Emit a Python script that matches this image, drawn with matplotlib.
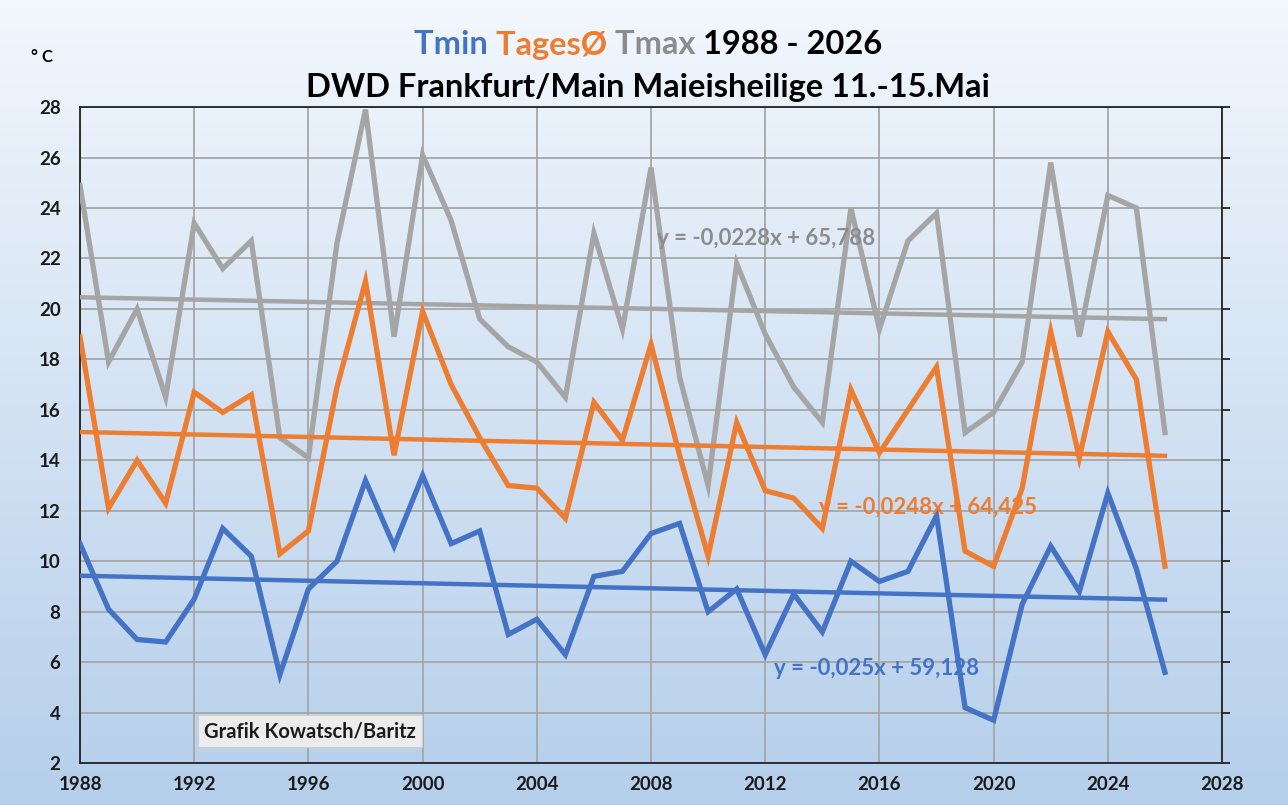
import matplotlib
matplotlib.use("Agg")
import matplotlib.pyplot as plt
import numpy as np

# Daten - Eisheilige 11.-15. Mai, DWD Frankfurt/Main
jahre = list(range(1988, 2027))

tmax = [24.9, 17.9, 20.0, 16.5, 23.4, 21.6, 22.7, 14.9, 14.1, 22.6,
        27.9, 18.9, 26.1, 23.5, 19.6, 18.5, 17.9, 16.5, 23.0, 19.2,
        25.6, 17.3, 13.0, 21.8, 19.0, 16.9, 15.5, 24.0, 19.2, 22.7,
        23.8, 15.1, 15.9, 17.9, 25.8, 18.9, 24.5, 24.0, 15.1]

tages = [18.9, 12.1, 14.0, 12.3, 16.7, 15.9, 16.6, 10.3, 11.2, 16.9,
         21.1, 14.2, 19.9, 17.0, 14.9, 13.0, 12.9, 11.7, 16.3, 14.8,
         18.6, 14.2, 10.2, 15.5, 12.8, 12.5, 11.3, 16.8, 14.3, 16.0,
         17.7, 10.4, 9.8, 12.9, 19.1, 14.1, 19.1, 17.2, 9.8]

tmin = [10.7, 8.1, 6.9, 6.8, 8.5, 11.3, 10.2, 5.5, 8.9, 10.0,
        13.2, 10.6, 13.4, 10.7, 11.2, 7.1, 7.7, 6.3, 9.4, 9.6,
        11.1, 11.5, 8.0, 8.9, 6.3, 8.7, 7.2, 10.0, 9.2, 9.6,
        11.8, 4.2, 3.7, 8.3, 10.6, 8.8, 12.7, 9.7, 5.6]

# Trendlinien (Steigung, Achsenabschnitt) wie in der Vorlage
trend_tmax = (-0.0228, 65.788)
trend_tages = (-0.0248, 64.425)
trend_tmin = (-0.025, 59.128)

blau = "#4472C4"
orange = "#ED7D31"
grau = "#A5A5A5"

plt.rcParams['font.family'] = ['Lato', 'DejaVu Sans']

fig = plt.figure(figsize=(12.88, 8.05), dpi=100)

# Hintergrund mit Farbverlauf
bg = fig.add_axes([0, 0, 1, 1], zorder=-10)
verlauf = np.linspace(0, 1, 256).reshape(-1, 1)
von = np.array([0.95, 0.97, 0.99])
bis = np.array([0.71, 0.81, 0.92])
farben = von + (bis - von) * verlauf[:, :, None]
bg.imshow(farben, aspect='auto', extent=[0, 1, 0, 1])
bg.axis('off')

ax = fig.add_axes([0.0621, 0.052, 0.8867, 0.815])
ax.patch.set_alpha(0)

x = np.array(jahre)
xt = np.array([jahre[0], jahre[-1]])

ax.plot(x, tmax, color=grau, lw=3.8, zorder=3, solid_joinstyle='miter')
ax.plot(xt, trend_tmax[0] * xt + trend_tmax[1], color=grau, lw=3.2, zorder=3)
ax.plot(x, tages, color=orange, lw=3.8, zorder=4, solid_joinstyle='miter')
ax.plot(xt, trend_tages[0] * xt + trend_tages[1], color=orange, lw=3.2, zorder=4)
ax.plot(x, tmin, color=blau, lw=3.8, zorder=5, solid_joinstyle='miter')
ax.plot(xt, trend_tmin[0] * xt + trend_tmin[1], color=blau, lw=3.2, zorder=5)

ax.set_xlim(1988, 2028)
ax.set_ylim(2, 28)
ax.set_xticks(np.arange(1988, 2029, 4))
ax.set_yticks(np.arange(2, 29, 2))
ax.grid(True, color="#A6A6A6", lw=1.3, zorder=1)
ax.set_axisbelow(True)

for s in ax.spines.values():
    s.set_color("#222222")
    s.set_linewidth(1.3)

ax.tick_params(axis='x', length=0, pad=9, labelsize=13.5)
ax.tick_params(axis='y', length=0, pad=14, labelsize=13.5,
               right=True, labelright=True)
for lab in ax.get_xticklabels() + ax.get_yticklabels():
    lab.set_fontweight('bold')
    lab.set_color("#1a1a1a")

# Striche an der rechten Achse
ax2 = ax.twinx()
ax2.set_ylim(2, 28)
ax2.set_yticks(np.arange(2, 29, 2))
ax2.tick_params(axis='y', direction='out', length=6, width=1.3,
                color="#222222", labelright=False)
for s in ax2.spines.values():
    s.set_visible(False)

# Trendgleichungen
ax.text(2008.2, 22.8, "y = -0,0228x + 65,788", color="#8c8c8c",
        fontsize=16, fontweight='bold', va='center', zorder=6)
ax.text(2013.9, 12.15, "y = -0,0248x + 64,425", color=orange,
        fontsize=16, fontweight='bold', va='center', zorder=6)
ax.text(2012.3, 5.75, "y = -0,025x + 59,128", color=blau,
        fontsize=16, fontweight='bold', va='center', zorder=6)

ax.text(1996.07, 3.27, "Grafik Kowatsch/Baritz", fontsize=14.5,
        fontweight='bold', color="#1a1a1a", ha='center', va='center', zorder=7,
        bbox=dict(boxstyle='square,pad=0.3', facecolor="#ececec",
                  edgecolor="#d0d0d0", lw=0.8))

# Titel
titel_teile = [("Tmin ", blau), ("TagesØ ", orange), ("Tmax ", "#8c8c8c"),
               ("1988 - 2026", "black")]
fig.canvas.draw()
r = fig.canvas.get_renderer()
texte = []
for t, c in titel_teile:
    texte.append(fig.text(0, 1 - 45 / 805, t, color=c, fontsize=23.5,
                          fontweight='bold', va='center', ha='left'))
breiten = [tx.get_window_extent(r).width for tx in texte]
gesamt = sum(breiten)
start = 648 - gesamt / 2
for tx, b in zip(texte, breiten):
    tx.set_x(start / fig.bbox.width)
    start += b

fig.text(648 / 1288, 1 - 88 / 805, "DWD Frankfurt/Main Maieisheilige 11.-15.Mai",
         fontsize=23.5, fontweight='bold', ha='center', va='center')

fig.text(42 / 1288, 1 - 57 / 805, "° C", fontsize=12, fontweight='bold',
         ha='center', va='center')

fig.savefig("out.png", dpi=100)
